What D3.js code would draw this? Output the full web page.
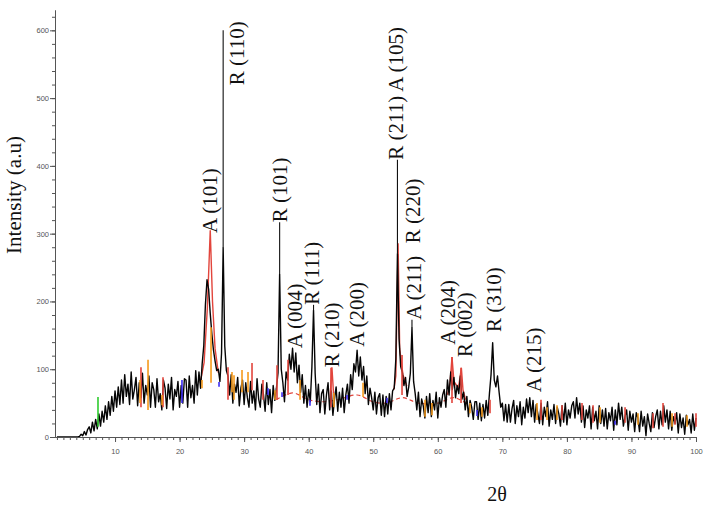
<!DOCTYPE html>
<html><head><meta charset="utf-8">
<script src="https://cdn.jsdelivr.net/npm/d3@7"></script>
<style>body{margin:0;background:#fff}svg{display:block}</style>
</head><body><svg id="c" width="714" height="507"></svg>
<script>
// ---- measured pattern: 2θ grid from 1 to 100 in 0.25° steps ----
const thetaStart = 1, thetaStep = 0.25;
const intensity = [
 0,0,0,0,0,0,0,0,0,0,0,0,0,0,1,4,2,8,3,11,
 15,6,22,9,26,12,34,16,38,22,46,26,52,32,60,38,68,44,74,48,
 84,50,92,60,78,48,96,56,70,88,46,80,58,94,50,76,62,90,44,80,
 70,44,86,52,64,40,84,72,42,78,56,88,40,70,60,82,44,76,50,86,
 84,44,90,58,76,50,98,62,96,72,108,135,195,232,218,182,152,128,112,98,
 100,82,124,279,134,98,90,62,92,50,78,66,88,46,72,84,48,80,58,44,
 82,50,68,40,86,56,44,78,62,38,80,48,70,36,76,54,72,95,240,100,
 80,52,96,84,122,100,131,96,124,80,106,66,92,50,76,44,70,52,104,187,
 94,48,78,36,64,70,34,62,80,40,68,32,56,74,38,66,44,72,36,62,
 78,50,92,70,108,96,128,90,118,84,104,64,90,48,72,58,40,66,34,58,
 64,32,62,30,60,34,64,40,68,72,115,270,145,104,96,76,88,60,74,94,
 161,82,64,40,66,30,56,46,28,60,36,64,30,54,40,66,28,58,44,62,
 70,44,84,62,96,70,88,58,76,64,90,56,66,40,60,30,54,44,26,52,
 52,26,50,24,48,28,54,32,64,92,139,84,74,90,66,44,50,24,48,22,
 48,22,42,54,20,46,30,52,18,44,28,56,36,58,30,54,22,48,34,20,
 50,18,44,30,52,16,40,26,48,20,44,34,16,46,22,50,18,40,28,46,
 52,28,58,34,50,22,46,14,40,28,46,12,44,24,38,12,46,20,40,16,
 42,12,36,24,44,10,40,18,50,26,44,16,30,40,10,38,22,34,8,36,
 28,8,38,16,30,2,34,20,8,36,14,30,40,12,38,18,46,22,40,12,
 38,10,30,20,36,6,34,14,28,4,32,18,26,6,34,10,28
];

// ---- red fitted peak profiles (null = gap between segments) ----
const fitTheta = [23.2,23.8,24.3,24.75,25.1,25.5,26,null,43.3,43.6,43.9,null,53.2,53.5,53.85,54.1,54.6,55.2,null,61.5,61.9,62.2,62.5,63.2,63.65,63.9,64.3];
const fitValue = [80,110,190,305,200,130,95,null,56,103,56,null,70,90,286,130,92,75,null,62,80,118,82,72,102,70,55];

// ---- red dashed background under the broad humps ----
const bgTheta = [35,37.5,40,42,44.5,47.5,50,52,54.5,57,60,62.5,65];
const bgValue = [55,65,55,52,55,62,52,50,58,50,50,58,46];

// ---- coloured phase sticks ----
const spikeTheta = [7.36,14.02,13.87,15.11,17.43,17.28,20.37,23.47,24.87,26.11,27.5,28.12,28.43,29.67,30.6,31.22,32.92,33.7,34.78,35.09,35.87,36.8,38.66,40.2,43.46,43.92,45.94,48.42,52.13,54.46,58.02,59.1,62.2,63.6,64.99,66.08,66.85,68.09,75.37,75.99,76.92,78.47,79.24,82.34,84.05,85.13,87.46,89.01,91.02,93.34,94.89,96.29,96.75,98.61,100];
const spikeLow  = [15,44,50,40,44,47,50,72,80,74,55,66,55,66,66,69,55,62,55,55,59,62,55,46,44,44,55,59,50,62,30,32,50,50,35,31,30,35,25,25,25,25,25,25,21,21,18,21,18,13,15,15,18,15,15];
const spikeHigh = [59,103,84,114,88,62,84,84,162,81,103,96,91,99,96,109,84,72,69,106,66,114,84,55,102,65,62,80,58,121,55,50,118,102,50,40,44,55,50,55,44,47,47,50,47,44,24,44,35,35,50,35,35,32,35];
const spikeKind = ["g","r","o","o","r","o","b","o","o","b","r","o","o","o","o","r","r","b","o","r","b","r","o","b","r","o","b","o","b","r","o","o","r","r","o","b","o","r","o","r","o","o","r","r","r","o","b","r","o","r","r","o","r","o","r"];

// ---- peak labels ----
const labelText  = ["A (101)","R (110)","R (101)","A (004)","R (111)","R (210)","A (200)","R (211) A (105)","R (220)","A (211)","A (204)","R (002)","R (310)","A (215)"];
const labelTheta = [24.71,28.9,35.56,37.88,40.51,43.61,47.49,53.53,56.16,56.32,61.58,64.22,68.71,74.9];
const labelBase  = [301,519,317,131,195,103,133,409,286,173,136,118,155,66];
const leaderTheta = [26.75,35.5,40.75,53.75,56];
const leaderFrom  = [600,317,195,409,173];
const leaderTo    = [279,240,187,270,161];

const xTicks = [10,20,30,40,50,60,70,80,90,100];
const yTicks = [0,100,200,300,400,500,600];

// ---------------------------------------------------------------
const svg = d3.select("#c");
const x = d3.scaleLinear().domain([0.7,100]).range([55,696]);
const y = d3.scaleLinear().domain([0,630]).range([437,10]);
const colors = {r:"#e2453c", o:"#f59a1c", b:"#3b2cf2", g:"#2ecc2e"};

const measured = intensity.map((v,i)=>[thetaStart+i*thetaStep, v]);
const fit = fitTheta.map((t,i)=>[t, fitValue[i]]);
const bg = bgTheta.map((t,i)=>[t, bgValue[i]]);
const line = d3.line().defined(d=>d[0]!==null).x(d=>x(d[0])).y(d=>y(d[1]));

// dashed background (behind)
svg.append("path").datum(bg).attr("d",d3.line().curve(d3.curveCatmullRom).x(d=>x(d[0])).y(d=>y(d[1])))
  .attr("fill","none").attr("stroke",colors.r).attr("stroke-width",1.2).attr("stroke-dasharray","4,3");
// fit
svg.append("path").datum(fit).attr("d",line).attr("fill","none")
  .attr("stroke",colors.r).attr("stroke-width",1.4);

// measured
svg.append("path").datum(measured).attr("d",line).attr("fill","none")
  .attr("stroke","#050505").attr("stroke-width",1.4).attr("stroke-linejoin","round");

// sticks
svg.append("g").selectAll("line").data(spikeTheta).join("line")
  .attr("x1",d=>x(d)).attr("x2",d=>x(d))
  .attr("y1",(d,i)=>y(spikeLow[i])).attr("y2",(d,i)=>y(spikeHigh[i]))
  .attr("stroke",(d,i)=>colors[spikeKind[i]]).attr("stroke-width",1.6);

// leaders
svg.append("g").selectAll("line").data(leaderTheta).join("line")
  .attr("x1",d=>x(d)).attr("x2",d=>x(d))
  .attr("y1",(d,i)=>y(leaderFrom[i])).attr("y2",(d,i)=>y(leaderTo[i]))
  .attr("stroke","#111").attr("stroke-width",1.1);

// labels
svg.append("g").selectAll("text").data(labelText).join("text")
  .attr("transform",(d,i)=>`translate(${x(labelTheta[i])},${y(labelBase[i])}) rotate(-90)`)
  .attr("dominant-baseline","central")
  .attr("font-family","'Liberation Serif','Times New Roman',serif")
  .attr("font-size",21).attr("fill","#111").text(d=>d);

// axes
const axisColor = "#555";
function styleAxis(g){
  g.selectAll("path,line").attr("stroke",axisColor);
  g.selectAll("text").attr("fill","#555").attr("font-family","'Liberation Sans',Arial,sans-serif").attr("font-size",7.5);
}
svg.append("g").attr("transform","translate(0,437)")
  .call(d3.axisBottom(x).tickValues(d3.range(1,101)).tickSize(3).tickSizeOuter(0).tickFormat(""))
  .call(styleAxis);
svg.append("g").attr("transform","translate(0,437)")
  .call(d3.axisBottom(x).tickValues(xTicks).tickSize(5).tickSizeOuter(0).tickPadding(7).tickFormat(d3.format("d")))
  .call(styleAxis);
svg.append("g").attr("transform","translate(55,0)")
  .call(d3.axisLeft(y).tickValues(d3.range(0,621,20)).tickSize(3).tickSizeOuter(0).tickFormat(""))
  .call(styleAxis);
svg.append("g").attr("transform","translate(55,0)")
  .call(d3.axisLeft(y).tickValues(yTicks).tickSize(5).tickSizeOuter(0).tickPadding(1).tickFormat(d3.format("d")))
  .call(styleAxis);

// titles
svg.append("text").attr("transform","translate(14,195) rotate(-90)")
  .attr("text-anchor","middle").attr("dominant-baseline","central")
  .attr("font-family","'Liberation Serif','Times New Roman',serif").attr("font-size",21)
  .attr("fill","#111").text("Intensity (a.u)");
svg.append("text").attr("x",497).attr("y",501).attr("text-anchor","middle")
  .attr("font-family","'Liberation Serif','Times New Roman',serif").attr("font-size",20)
  .attr("fill","#111").text("2θ");
</script></body></html>
